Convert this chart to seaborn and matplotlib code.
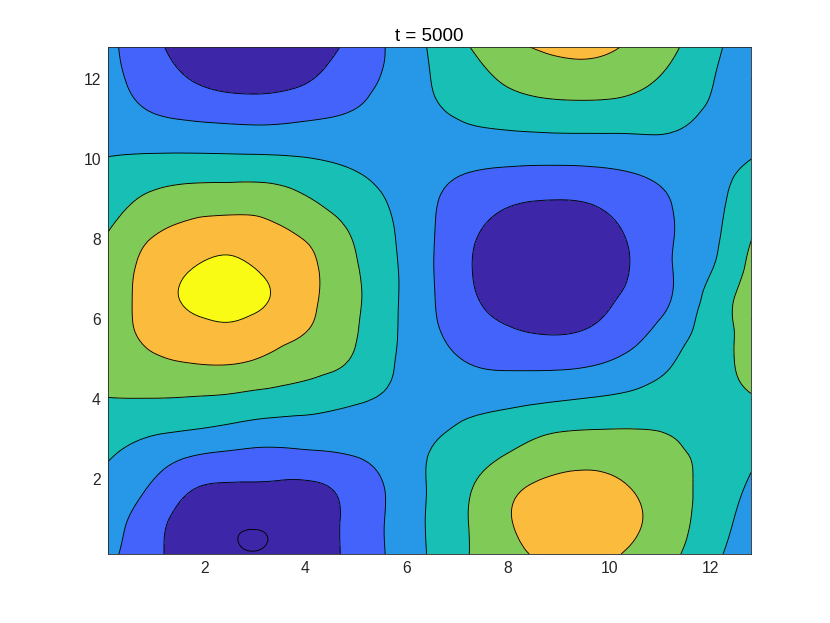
import numpy as np
import matplotlib
matplotlib.use("Agg")
import matplotlib.pyplot as plt
import matplotlib.tri as mtri
import seaborn as sns

# field sampled on a 17 x 17 grid, x = y = 0.1 ... 12.8
grid_lo, grid_hi, grid_n = 0.1, 12.8, 17

# rows from bottom (y = 0.1) to top (y = 12.8), columns left to right
field_rows = [
    [2.24, 1.35, 0.55, 0.14, 0.10, 0.49, 1.18, 2.10, 3.07, 4.01, 4.78, 5.15, 5.28, 4.86, 4.20, 3.30, 2.24],
    [2.50, 1.45, 0.60, 0.16, 0.12, 0.45, 1.20, 2.12, 3.10, 4.03, 4.95, 5.48, 5.57, 5.20, 4.43, 3.53, 2.53],
    [2.76, 1.92, 1.04, 0.78, 0.76, 0.72, 1.28, 2.10, 3.07, 3.96, 4.82, 5.31, 5.40, 5.04, 4.38, 3.67, 2.81],
    [3.03, 2.49, 1.92, 1.69, 1.61, 1.71, 1.90, 2.35, 3.04, 3.61, 4.16, 4.60, 4.75, 4.56, 4.20, 3.75, 3.13],
    [3.53, 3.24, 3.09, 2.88, 2.68, 2.62, 2.58, 2.70, 2.85, 3.16, 3.50, 3.83, 3.94, 3.97, 3.90, 3.60, 3.45],
    [4.02, 4.06, 4.03, 3.94, 3.74, 3.58, 3.26, 2.93, 2.75, 2.61, 2.65, 2.78, 2.94, 3.13, 3.43, 3.65, 3.97],
    [4.26, 4.74, 4.97, 5.02, 4.75, 4.35, 3.94, 3.10, 2.52, 2.00, 1.83, 1.81, 1.93, 2.33, 2.96, 3.62, 4.25],
    [4.39, 5.22, 5.61, 5.79, 5.45, 4.96, 4.22, 3.21, 2.25, 1.49, 1.10, 0.94, 1.10, 1.63, 2.50, 3.45, 4.42],
    [4.40, 5.38, 6.12, 6.36, 6.00, 5.20, 4.32, 3.25, 2.16, 1.16, 0.68, 0.46, 0.68, 1.20, 2.00, 3.35, 4.40],
    [4.29, 5.29, 5.95, 6.26, 5.80, 5.19, 4.26, 3.23, 2.13, 1.05, 0.50, 0.30, 0.50, 1.02, 1.95, 2.95, 4.25],
    [4.07, 4.94, 5.36, 5.57, 5.29, 4.89, 4.05, 3.14, 2.14, 1.14, 0.61, 0.44, 0.59, 1.09, 1.93, 2.76, 3.96],
    [3.56, 4.30, 4.65, 4.74, 4.69, 4.20, 3.58, 2.98, 2.16, 1.45, 1.02, 0.88, 0.97, 1.40, 1.98, 2.71, 3.57],
    [3.22, 3.53, 3.67, 3.69, 3.66, 3.41, 3.09, 2.76, 2.32, 1.97, 1.80, 1.74, 1.79, 1.97, 2.29, 2.72, 3.18],
    [2.80, 2.70, 2.65, 2.60, 2.57, 2.58, 2.55, 2.55, 2.55, 2.65, 2.69, 2.72, 2.73, 2.77, 2.85, 2.72, 2.80],
    [2.50, 1.99, 1.71, 1.55, 1.52, 1.70, 1.97, 2.37, 2.85, 3.22, 3.51, 3.68, 3.72, 3.64, 3.33, 2.90, 2.50],
    [2.30, 1.60, 1.00, 0.64, 0.62, 0.93, 1.55, 2.17, 2.98, 3.60, 4.20, 4.51, 4.55, 4.31, 3.80, 3.07, 2.30],
    [2.24, 1.35, 0.55, 0.14, 0.10, 0.49, 1.18, 2.10, 3.07, 4.00, 4.78, 5.15, 5.28, 4.86, 4.18, 3.30, 2.24],
]

# the small closed contour near the bottom minimum
dip_x = [2.97]
dip_y = [0.40]
dip_value = [-0.05]

levels = [-1, 0, 1, 2, 3, 4, 5, 6, 7]
band_colors = ["#3e26a8", "#3e26a8", "#4363fa", "#2797e8",
               "#17bfb4", "#80cb58", "#fbbb3d", "#f9fb14"]
x_ticks = [2, 4, 6, 8, 10, 12]
y_ticks = [2, 4, 6, 8, 10, 12]
title = "t = 5000"

sns.set_theme(style="white")
plt.rcParams["font.family"] = ["Liberation Sans", "DejaVu Sans"]

gx = np.linspace(grid_lo, grid_hi, grid_n)
GX, GY = np.meshgrid(gx, gx)
xs = np.concatenate([GX.ravel(), dip_x])
ys = np.concatenate([GY.ravel(), dip_y])
zs = np.concatenate([np.array(field_rows).ravel(), dip_value])

tri = mtri.Triangulation(xs, ys)
interp = mtri.CubicTriInterpolator(tri, zs, kind="min_E")
refiner = mtri.UniformTriRefiner(tri)
tri_f, z_f = refiner.refine_field(zs, triinterpolator=interp, subdiv=3)

fig = plt.figure(figsize=(8.3, 6.23), dpi=100)
ax = fig.add_axes([0.13, 0.11, 0.775, 0.815])

ax.tricontourf(tri_f, z_f, levels=levels, colors=sns.color_palette(band_colors))
ax.tricontour(tri_f, z_f, levels=levels[1:-1], colors="black", linewidths=0.65)

ax.set_xlim(grid_lo, grid_hi)
ax.set_ylim(grid_lo, grid_hi)
ax.set_xticks(x_ticks)
ax.set_yticks(y_ticks)
ax.tick_params(direction="in", top=True, right=True, length=5, width=0.6,
               color="#262626", labelsize=11.3, labelcolor="#262626", pad=5)
for sp in ax.spines.values():
    sp.set_visible(True)
    sp.set_color("#262626")
    sp.set_linewidth(0.6)
ax.set_title(title, fontsize=13.5, color="black", pad=4)

fig.savefig("out.png", dpi=100)
